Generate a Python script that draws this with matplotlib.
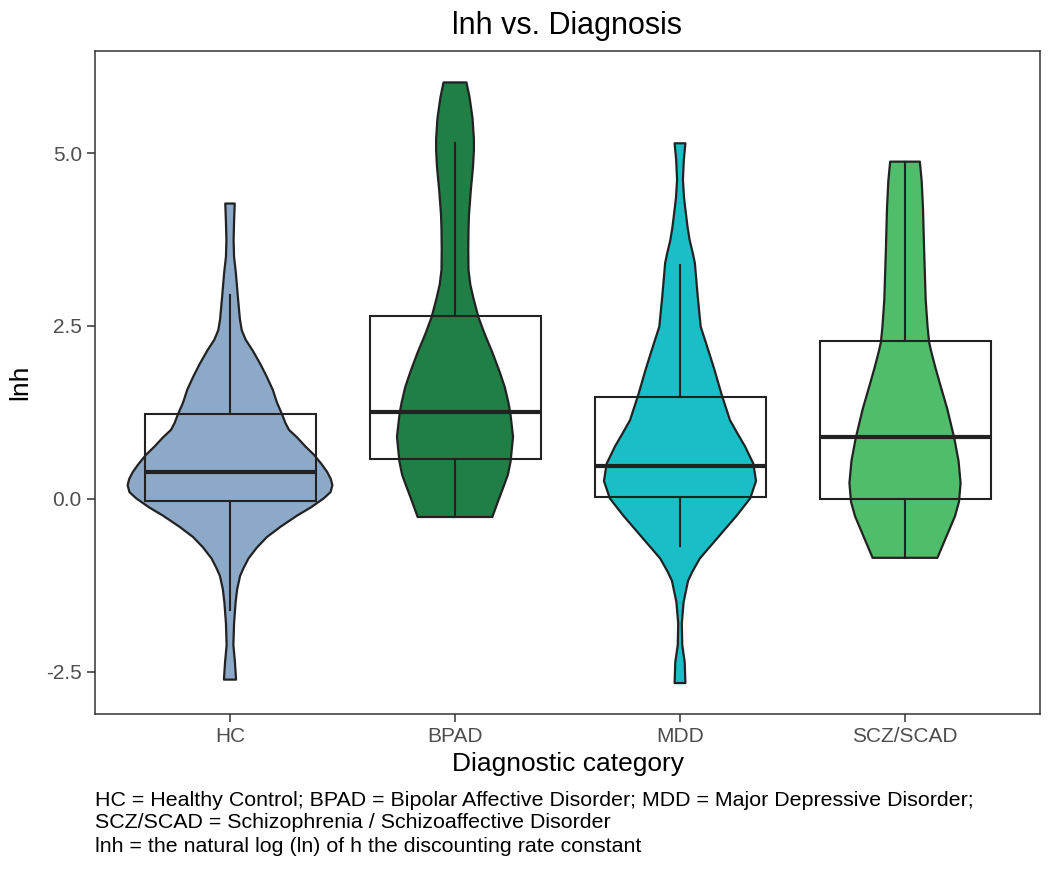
import numpy as np
import matplotlib
matplotlib.use("Agg")
import matplotlib.pyplot as plt

plt.rcParams['font.family'] = ['Liberation Sans', 'DejaVu Sans']

# categories and colours
groups = ['HC', 'BPAD', 'MDD', 'SCZ/SCAD']
colors = ['#8DA9C8', '#1F7F45', '#19BEC6', '#4FBD6A']

# violin outlines: y value and half width (data units)
hc_y = [4.27, 4.00, 3.74, 3.50, 3.27, 2.92, 2.60, 2.44, 2.30, 2.15, 1.95, 1.77,
        1.58, 1.39, 1.22, 1.10, 1.00, 0.89, 0.76, 0.64, 0.50, 0.39, 0.29, 0.20,
        0.10, 0.01, -0.12, -0.24, -0.40, -0.55, -0.70, -0.86, -1.00, -1.11,
        -1.30, -1.49, -1.80, -2.11, -2.36, -2.61]
hc_w = [0.021, 0.018, 0.016, 0.018, 0.026, 0.035, 0.044, 0.052, 0.070, 0.100,
        0.135, 0.163, 0.190, 0.209, 0.232, 0.246, 0.262, 0.298, 0.335, 0.373,
        0.408, 0.432, 0.448, 0.455, 0.447, 0.417, 0.360, 0.298, 0.225, 0.164,
        0.120, 0.082, 0.060, 0.045, 0.032, 0.025, 0.018, 0.015, 0.022, 0.027]

bpad_y = [6.02, 5.80, 5.50, 5.20, 5.04, 4.80, 4.45, 4.10, 3.89, 3.60, 3.31, 3.10,
          2.90, 2.63, 2.40, 2.11, 1.85, 1.62, 1.40, 1.24, 0.90, 0.54, 0.35, 0.18,
          0.00, -0.26]
bpad_w = [0.051, 0.065, 0.078, 0.084, 0.084, 0.080, 0.070, 0.062, 0.060, 0.059,
          0.060, 0.068, 0.082, 0.104, 0.130, 0.167, 0.197, 0.221, 0.237, 0.246,
          0.258, 0.247, 0.235, 0.216, 0.195, 0.166]

mdd_y = [5.14, 4.90, 4.61, 4.35, 4.13, 3.92, 3.74, 3.55, 3.41, 2.92, 2.49, 2.26,
         1.89, 1.51, 1.14, 0.95, 0.76, 0.51, 0.26, 0.01, -0.24, -0.55, -0.86,
         -1.05, -1.18, -1.49, -1.80, -2.11, -2.36, -2.66]
mdd_w = [0.024, 0.017, 0.013, 0.018, 0.026, 0.034, 0.043, 0.057, 0.066, 0.079,
         0.092, 0.115, 0.151, 0.185, 0.222, 0.255, 0.289, 0.326, 0.338, 0.312,
         0.252, 0.170, 0.088, 0.055, 0.036, 0.016, 0.008, 0.010, 0.021, 0.024]

scz_y = [4.875, 4.60, 4.20, 3.60, 2.88, 2.50, 2.27, 2.15, 1.90, 1.67, 1.30, 0.88,
         0.55, 0.23, -0.04, -0.25, -0.45, -0.65, -0.85]
scz_w = [0.066, 0.074, 0.080, 0.085, 0.092, 0.100, 0.107, 0.115, 0.135, 0.155,
         0.188, 0.219, 0.238, 0.247, 0.240, 0.222, 0.196, 0.170, 0.144]

violin_y = [hc_y, bpad_y, mdd_y, scz_y]
violin_w = [hc_w, bpad_w, mdd_w, scz_w]

# box summary: whisker low, q1, median, q3, whisker high
whislo = [-1.60, -0.26, -0.68, -0.85]
q1 = [-0.03, 0.575, 0.025, 0.00]
med = [0.39, 1.25, 0.48, 0.89]
q3 = [1.23, 2.65, 1.48, 2.29]
whishi = [2.95, 5.14, 3.38, 4.875]

yticks = [-2.5, 0.0, 2.5, 5.0]
ytick_labels = ['-2.5', '0.0', '2.5', '5.0']

caption_lines = [
    "HC = Healthy Control; BPAD = Bipolar Affective Disorder; MDD = Major Depressive Disorder;",
    "SCZ/SCAD = Schizophrenia / Schizoaffective Disorder",
    "lnh = the natural log (ln) of h the discounting rate constant",
]

fig = plt.figure(figsize=(10.5, 8.74), dpi=100)
# axes box: x 95..1040 px, y 51..714 px
ax = fig.add_axes([95 / 1050, 1 - 714 / 874, 945 / 1050, 663 / 874])

edge = '#222222'
for i, (ys, ws) in enumerate(zip(violin_y, violin_w)):
    pos = i + 1
    ys = np.array(ys)
    ws = np.array(ws)
    px = np.concatenate([pos + ws, (pos - ws)[::-1]])
    py = np.concatenate([ys, ys[::-1]])
    ax.fill(px, py, facecolor=colors[i], edgecolor=edge, linewidth=1.6,
            joinstyle='round', zorder=2)

stats = []
for i in range(len(groups)):
    stats.append({'whislo': whislo[i], 'q1': q1[i], 'med': med[i],
                  'q3': q3[i], 'whishi': whishi[i], 'fliers': []})

ax.bxp(stats, positions=[1, 2, 3, 4], widths=0.76, showfliers=False,
       showcaps=False, patch_artist=True, manage_ticks=False,
       boxprops=dict(facecolor='none', edgecolor=edge, linewidth=1.5),
       whiskerprops=dict(color=edge, linewidth=1.5),
       medianprops=dict(color=edge, linewidth=3.0, solid_capstyle='butt'),
       zorder=3)

ax.set_xlim(0.4, 4.6)
ax.set_ylim(-3.107, 6.474)
ax.set_xticks([1, 2, 3, 4])
ax.set_xticklabels(groups)
ax.set_yticks(yticks)
ax.set_yticklabels(ytick_labels)
ax.tick_params(axis='both', direction='out', length=5.5, width=1.1,
               color='#333333', labelsize=15, labelcolor='#4d4d4d', pad=4)
for s in ax.spines.values():
    s.set_color('#333333')
    s.set_linewidth(1.1)

ax.set_xlabel('Diagnostic category', fontsize=19, labelpad=4)
ax.set_ylabel('lnh', fontsize=19, labelpad=10)
ax.set_title('lnh vs. Diagnosis', fontsize=22, pad=12)

for k, line in enumerate(caption_lines):
    fig.text(95 / 1050, 1 - (800 + 23 * k) / 874, line, fontsize=15.4,
             va='center', ha='left')

fig.savefig('out.png', dpi=100)
